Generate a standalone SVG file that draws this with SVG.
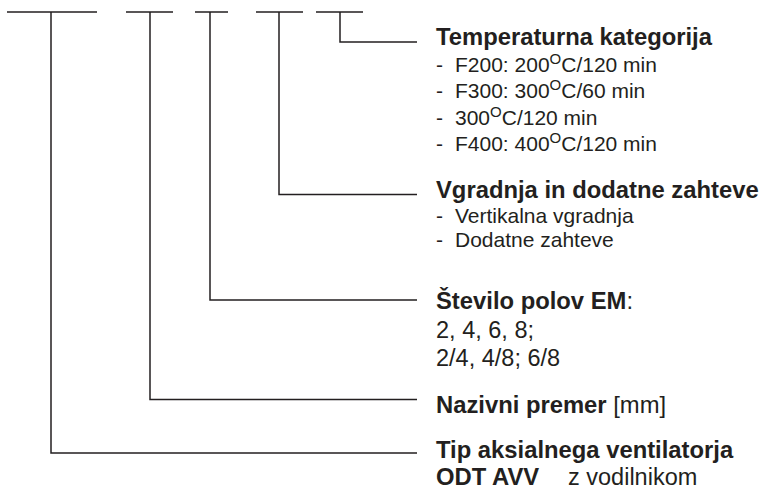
<svg xmlns="http://www.w3.org/2000/svg" width="762" height="492" viewBox="0 0 762 492">
<style>
.ln{fill:none;stroke:#231f20;stroke-width:1.5}
text{font-family:"Liberation Sans",Arial,sans-serif;fill:#231f20}
.t{font-weight:bold;font-size:23.8px}
.r{font-size:23.5px}
.s{font-size:21px}
.sup{font-size:15px}
</style>
<rect width="762" height="492" fill="#fff"/>
<g id="connectors">
<path class="ln" d="M7,12H97M126,12H173M195,12H228M256,12H303M316,12H363"/>
<path class="ln" d="M51,12V453H417"/>
<path class="ln" d="M150,12V399.5H417"/>
<path class="ln" d="M210,12V300H417"/>
<path class="ln" d="M279,12V194.5H417"/>
<path class="ln" d="M340,12V42H417"/>
</g>
<g id="temperatura">
<text class="t" x="436" y="45">Temperaturna kategorija</text>
<text class="s" y="72"><tspan x="436">-</tspan><tspan x="455">F200: 200<tspan class="sup" dy="-8">O</tspan><tspan dy="8">C/120 min</tspan></tspan></text>
<text class="s" y="98"><tspan x="436">-</tspan><tspan x="455">F300: 300<tspan class="sup" dy="-8">O</tspan><tspan dy="8">C/60 min</tspan></tspan></text>
<text class="s" y="124.5"><tspan x="436">-</tspan><tspan x="455">300<tspan class="sup" dy="-8">O</tspan><tspan dy="8">C/120 min</tspan></tspan></text>
<text class="s" y="151"><tspan x="436">-</tspan><tspan x="455">F400: 400<tspan class="sup" dy="-8">O</tspan><tspan dy="8">C/120 min</tspan></tspan></text>
</g>
<g id="vgradnja">
<text class="t" x="436" y="198">Vgradnja in dodatne zahteve</text>
<text class="s" y="223"><tspan x="436">-</tspan><tspan x="455">Vertikalna vgradnja</tspan></text>
<text class="s" y="247"><tspan x="436">-</tspan><tspan x="455">Dodatne zahteve</tspan></text>
</g>
<g id="stevilo">
<text class="t" x="436" y="309">Število polov EM<tspan font-weight="normal">:</tspan></text>
<text class="r" x="436" y="338">2, 4, 6, 8;</text>
<text class="r" x="436" y="366">2/4, 4/8; 6/8</text>
</g>
<g id="premer">
<text class="t" x="436" y="413">Nazivni premer<tspan font-weight="normal"> [mm]</tspan></text>
</g>
<g id="tip">
<text class="t" x="436" y="458">Tip aksialnega ventilatorja</text>
<text class="t" x="436" y="485">ODT AVV</text>
<text class="r" x="568" y="485">z vodilnikom</text>
</g>
</svg>
